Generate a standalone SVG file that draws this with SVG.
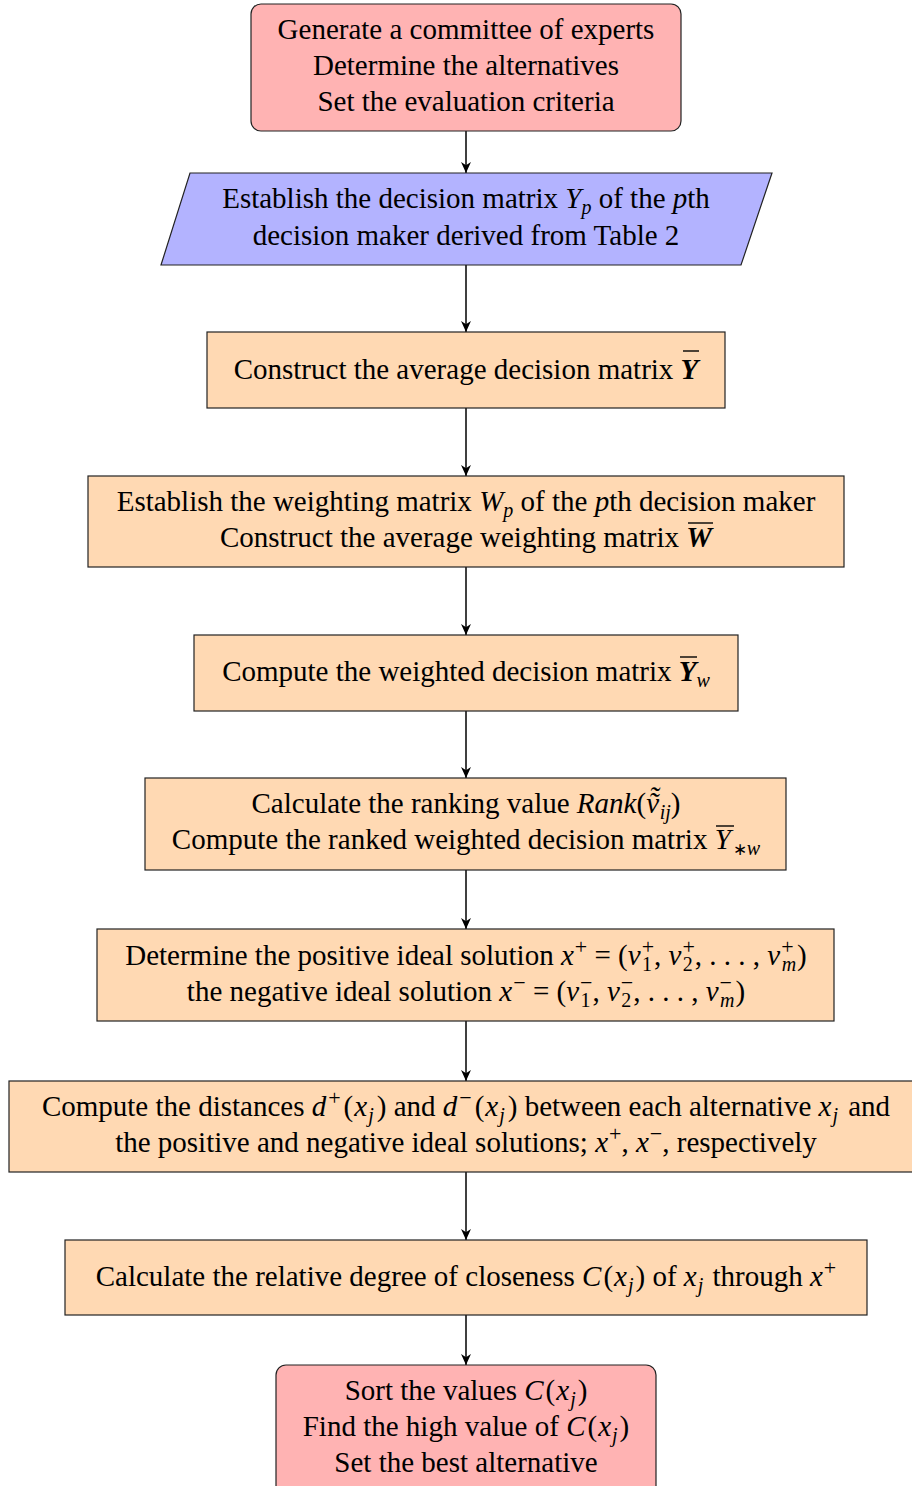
<svg xmlns="http://www.w3.org/2000/svg" width="912" height="1486" viewBox="0 0 912 1486">
<defs>
<style>
text{font-family:"Liberation Serif","Times New Roman",serif;font-size:29px;fill:#000;text-anchor:middle}
.i{font-style:italic}
.b{font-weight:bold;font-style:italic}
.s{font-size:20px}
.p{font-size:22px}
.bar{stroke:#000;stroke-width:1.4}
.pink{fill:#FFB3B3;stroke:#222;stroke-width:1.2}
.blue{fill:#B3B3FF;stroke:#222;stroke-width:1.2}
.peach{fill:#FFD9B3;stroke:#222;stroke-width:1.2}
.conn{stroke:#000;stroke-width:1.5;fill:none;marker-end:url(#arr)}
</style>
<marker id="arr" viewBox="0 0 10 10" refX="10" refY="5" markerWidth="11" markerHeight="11" orient="auto" markerUnits="userSpaceOnUse">
<path d="M0,0.5 L10,5 L0,9.5 L3,5 z" fill="#000"/>
</marker>
</defs>
<rect width="912" height="1486" fill="#fff"/>

<g id="connectors">
<line class="conn" x1="466" y1="131" x2="466" y2="173"/>
<line class="conn" x1="466" y1="265" x2="466" y2="332"/>
<line class="conn" x1="466" y1="408" x2="466" y2="476"/>
<line class="conn" x1="466" y1="567" x2="466" y2="635"/>
<line class="conn" x1="466" y1="711" x2="466" y2="778"/>
<line class="conn" x1="466" y1="870" x2="466" y2="929"/>
<line class="conn" x1="466" y1="1021" x2="466" y2="1081"/>
<line class="conn" x1="466" y1="1172" x2="466" y2="1240"/>
<line class="conn" x1="466" y1="1315" x2="466" y2="1365"/>
</g>

<g id="n1">
<rect class="pink" x="251" y="4" width="430" height="127" rx="10"/>
<text x="466" y="39">Generate a committee of experts</text>
<text x="466" y="75">Determine the alternatives</text>
<text x="466" y="111">Set the evaluation criteria</text>
</g>

<g id="n2">
<polygon class="blue" points="190,173 772,173 741,265 161,265"/>
<text x="466" y="208">Establish the decision matrix <tspan class="i">Y</tspan><tspan class="i s" dy="6">p</tspan><tspan dy="-6"> of the </tspan><tspan class="i">p</tspan>th</text>
<text x="466" y="245">decision maker derived from Table 2</text>
</g>

<g id="n3">
<rect class="peach" x="207" y="332" width="518" height="76"/>
<text x="466" y="379">Construct the average decision matrix <tspan class="b">Y</tspan></text>
<line class="bar" x1="683" y1="351" x2="699" y2="351"/>
</g>

<g id="n4">
<rect class="peach" x="88" y="476" width="756" height="91"/>
<text x="466" y="511">Establish the weighting matrix <tspan class="i">W</tspan><tspan class="i s" dy="6">p</tspan><tspan dy="-6"> of the </tspan><tspan class="i">p</tspan>th decision maker</text>
<text x="466" y="547">Construct the average weighting matrix <tspan class="b">W</tspan></text>
<line class="bar" x1="688" y1="523" x2="713" y2="523"/>
</g>

<g id="n5">
<rect class="peach" x="194" y="635" width="544" height="76"/>
<text x="466" y="681">Compute the weighted decision matrix <tspan class="b">Y</tspan><tspan class="i s" dy="6">w</tspan></text>
<line class="bar" x1="680" y1="657" x2="697" y2="657"/>
</g>

<g id="n6">
<rect class="peach" x="145" y="778" width="641" height="92"/>
<text x="466" y="813">Calculate the ranking value <tspan class="i">Rank</tspan>(<tspan class="i">ṽ</tspan><tspan class="i" dx="-10" dy="-6">˜</tspan><tspan class="i s" dx="1" dy="12">ij</tspan><tspan dy="-6">)</tspan></text>
<text x="466" y="849">Compute the ranked weighted decision matrix <tspan class="i">Y</tspan><tspan style="font-size:17px" dx="2" dy="6">∗</tspan><tspan class="i s">w</tspan></text>
<line class="bar" x1="716" y1="826" x2="734" y2="826"/>
</g>

<g id="n7">
<rect class="peach" x="97" y="929" width="737" height="92"/>
<text x="466" y="965">Determine the positive ideal solution <tspan class="i">x</tspan><tspan class="p" dx="1" dy="-11">+</tspan><tspan dy="11"> = (</tspan><tspan class="i">v</tspan><tspan class="p" dx="1" dy="-11">+</tspan><tspan class="s" dx="-12" dy="17">1</tspan><tspan dy="-6" dx="2">, </tspan><tspan class="i">v</tspan><tspan class="p" dx="1" dy="-11">+</tspan><tspan class="s" dx="-12" dy="17">2</tspan><tspan dy="-6" dx="2">, . . . , </tspan><tspan class="i">v</tspan><tspan class="p" dx="1" dy="-11">+</tspan><tspan class="i s" dx="-12" dy="17">m</tspan><tspan dy="-6" dx="1">)</tspan></text>
<text x="466" y="1001">the negative ideal solution <tspan class="i">x</tspan><tspan class="p" dx="1" dy="-11">−</tspan><tspan dy="11"> = (</tspan><tspan class="i">v</tspan><tspan class="p" dx="1" dy="-11">−</tspan><tspan class="s" dx="-12" dy="17">1</tspan><tspan dy="-6" dx="2">, </tspan><tspan class="i">v</tspan><tspan class="p" dx="1" dy="-11">−</tspan><tspan class="s" dx="-12" dy="17">2</tspan><tspan dy="-6" dx="2">, . . . , </tspan><tspan class="i">v</tspan><tspan class="p" dx="1" dy="-11">−</tspan><tspan class="i s" dx="-12" dy="17">m</tspan><tspan dy="-6" dx="1">)</tspan></text>
</g>

<g id="n8">
<rect class="peach" x="9" y="1081" width="914" height="91"/>
<text x="466" y="1116">Compute the distances <tspan class="i">d</tspan><tspan class="p" dx="2" dy="-11">+</tspan><tspan dx="3" dy="11">(</tspan><tspan class="i" dx="1">x</tspan><tspan class="i s" dx="1" dy="6">j</tspan><tspan dx="3" dy="-6">) and </tspan><tspan class="i">d</tspan><tspan class="p" dx="2" dy="-11">−</tspan><tspan dx="3" dy="11">(</tspan><tspan class="i" dx="1">x</tspan><tspan class="i s" dx="1" dy="6">j</tspan><tspan dx="3" dy="-6">) between each alternative </tspan><tspan class="i">x</tspan><tspan class="i s" dx="1" dy="6">j</tspan><tspan dx="3" dy="-6"> and</tspan></text>
<text x="466" y="1152">the positive and negative ideal solutions; <tspan class="i">x</tspan><tspan class="p" dx="1" dy="-11">+</tspan><tspan dy="11">, </tspan><tspan class="i">x</tspan><tspan class="p" dx="1" dy="-11">−</tspan><tspan dy="11">, respectively</tspan></text>
</g>

<g id="n9">
<rect class="peach" x="65" y="1240" width="802" height="75"/>
<text x="466" y="1286">Calculate the relative degree of closeness <tspan class="i">C</tspan><tspan dx="2">(</tspan><tspan class="i" dx="1">x</tspan><tspan class="i s" dx="1" dy="6">j</tspan><tspan dx="2" dy="-6">) of </tspan><tspan class="i">x</tspan><tspan class="i s" dx="1" dy="6">j</tspan><tspan dx="2" dy="-6"> through </tspan><tspan class="i">x</tspan><tspan class="p" dx="1" dy="-11">+</tspan></text>
</g>

<g id="n10">
<rect class="pink" x="276" y="1365" width="380" height="140" rx="10"/>
<text x="466" y="1400">Sort the values <tspan class="i">C</tspan><tspan dx="2">(</tspan><tspan class="i" dx="1">x</tspan><tspan class="i s" dx="1" dy="6">j</tspan><tspan dx="2" dy="-6">)</tspan></text>
<text x="466" y="1436">Find the high value of <tspan class="i">C</tspan><tspan dx="2">(</tspan><tspan class="i" dx="1">x</tspan><tspan class="i s" dx="1" dy="6">j</tspan><tspan dx="2" dy="-6">)</tspan></text>
<text x="466" y="1472">Set the best alternative</text>
</g>
</svg>
